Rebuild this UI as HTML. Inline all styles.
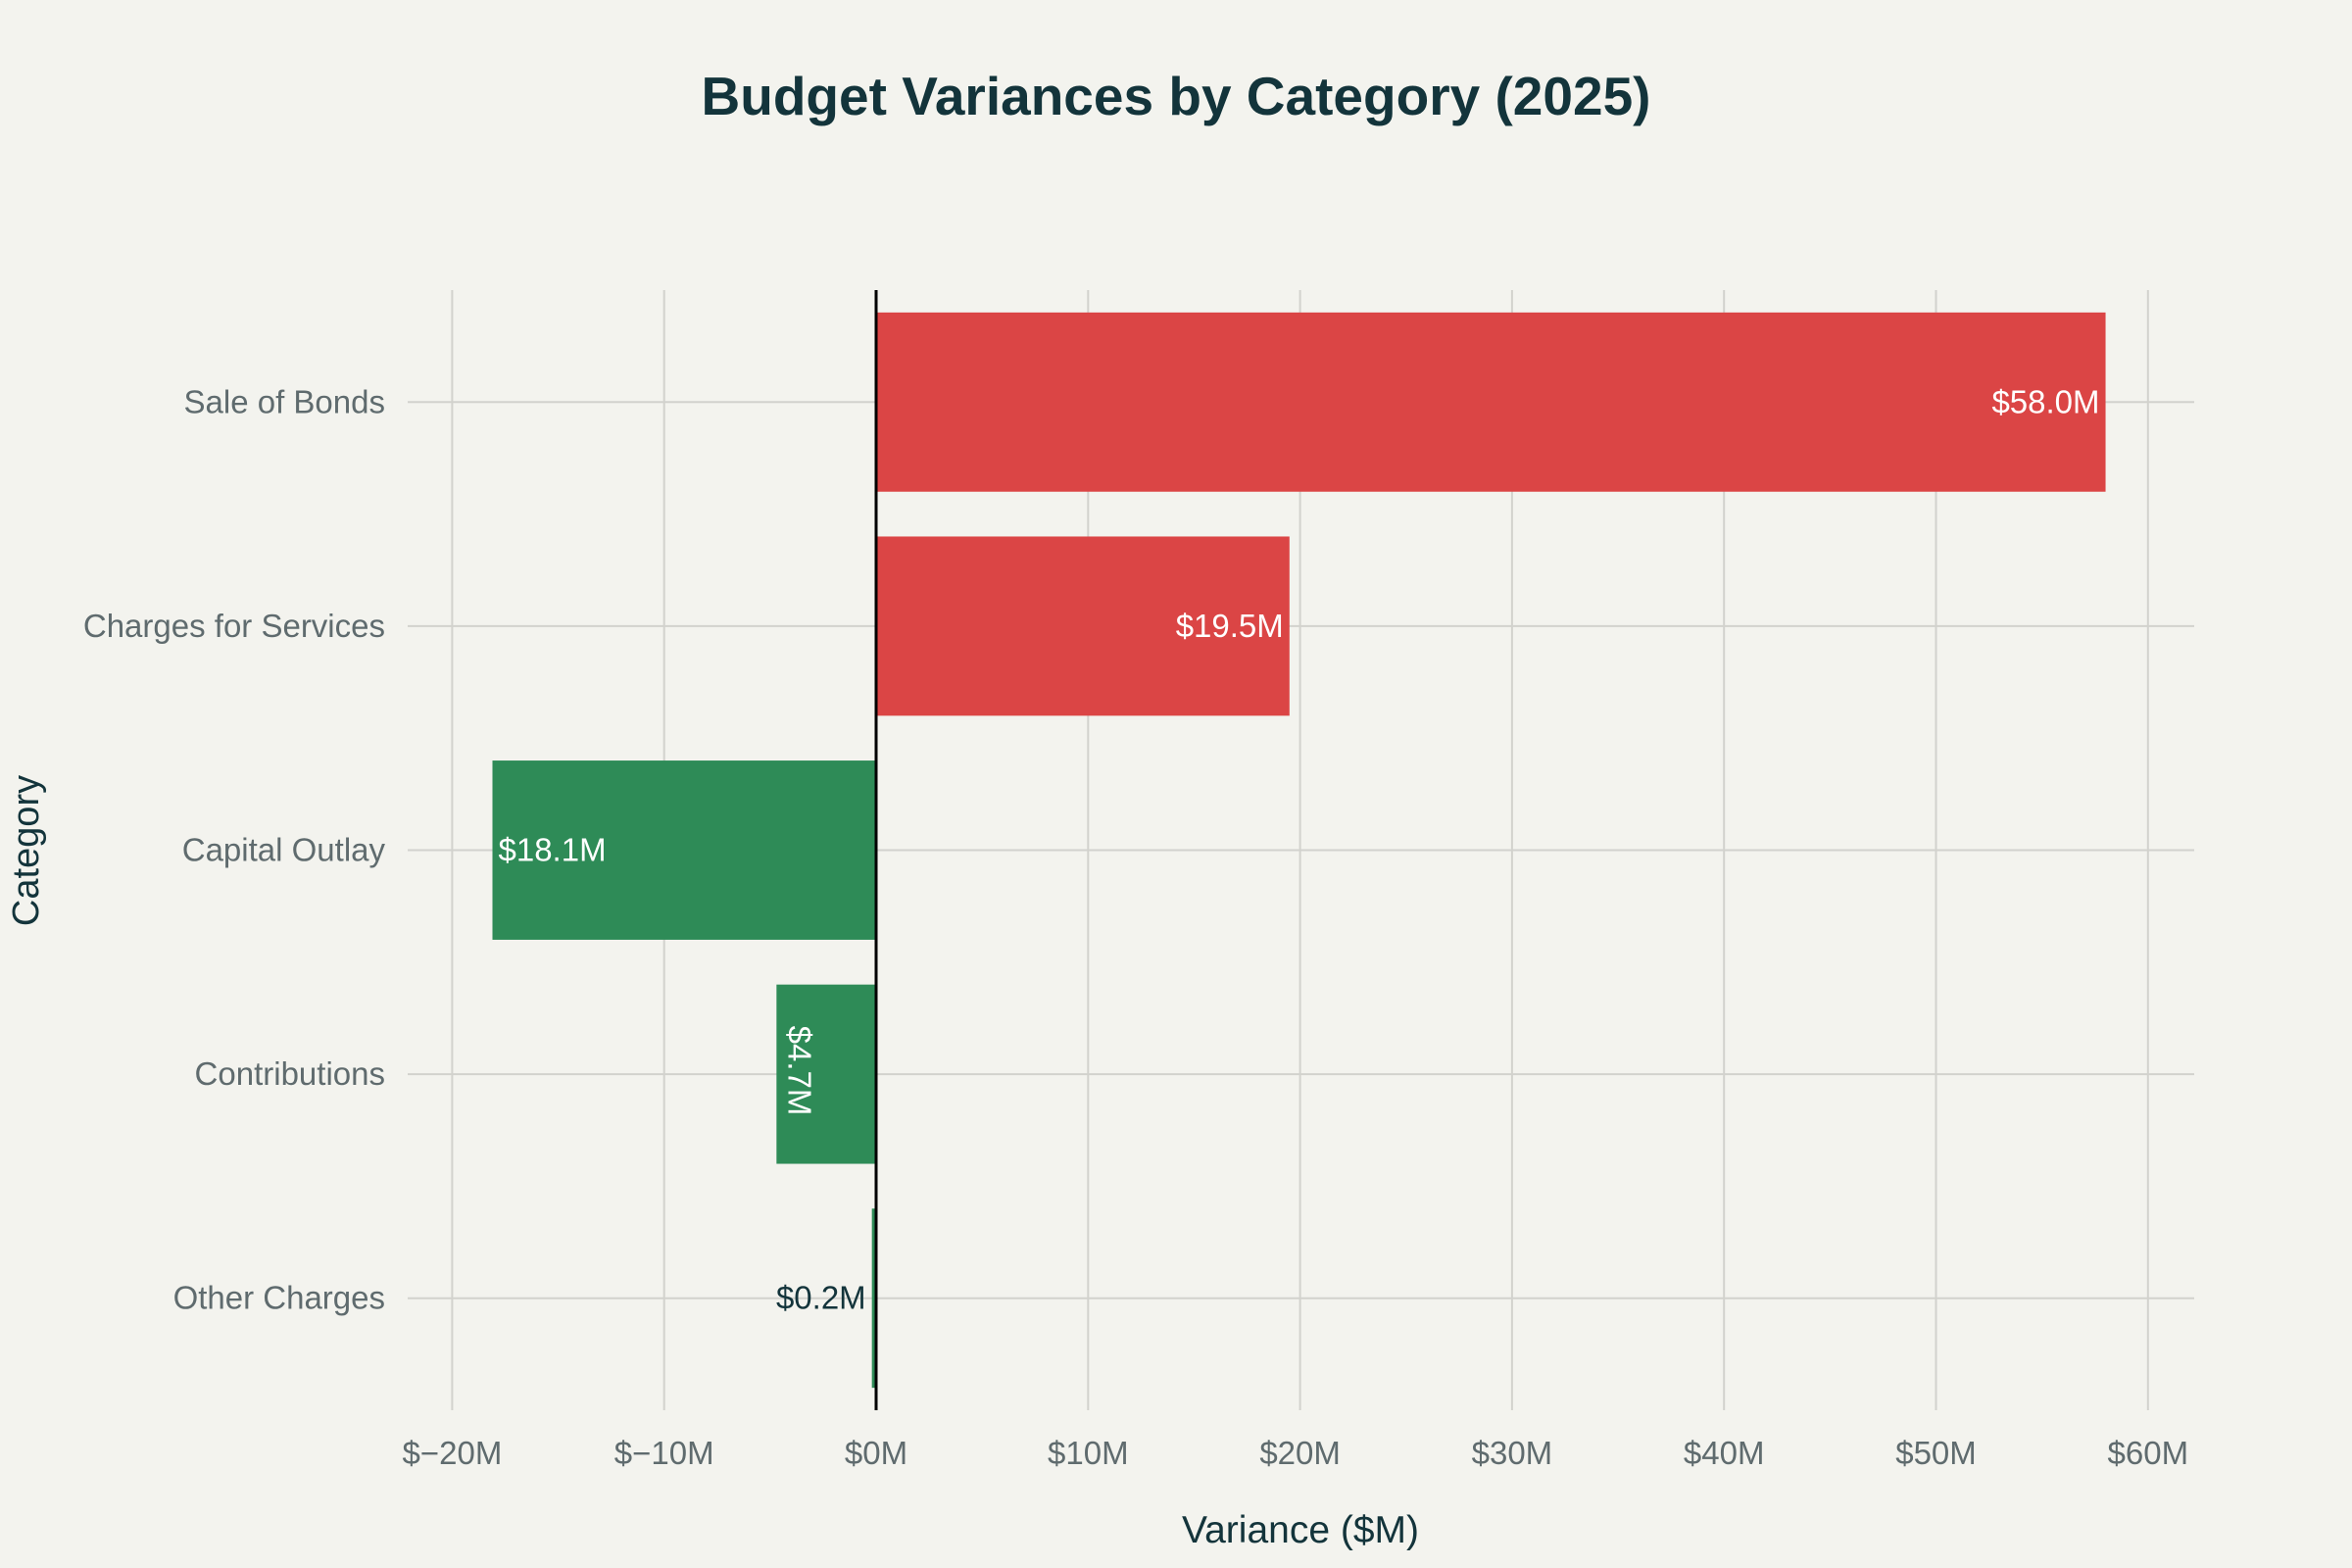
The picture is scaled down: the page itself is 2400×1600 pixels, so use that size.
<!DOCTYPE html>
<html><head><meta charset="utf-8"><style>
html,body{margin:0;padding:0;background:#F3F3EE;}
svg{display:block;font-family:"Liberation Sans",sans-serif;}
</style></head><body>
<svg id="chart" width="2400" height="1600" viewBox="0 0 2400 1600">
<rect x="0" y="0" width="2400" height="1600" fill="#F3F3EE"/>
<text x="1200" y="117" text-anchor="middle" font-size="55" font-weight="bold" fill="#13343B">Budget Variances by Category (2025)</text>
<g id="grid"></g><g id="bars"></g><g id="labels"></g>
<text x="1327" y="1574" text-anchor="middle" font-size="39" fill="#13343B">Variance ($M)</text>
<text transform="translate(39,868) rotate(-90)" text-anchor="middle" font-size="38" fill="#13343B">Category</text>
</svg>
<script>
const categories = ["Sale of Bonds","Charges for Services","Capital Outlay","Contributions","Other Charges"];
const values = [58.0, 19.5, -18.1, -4.7, -0.2];
const valueLabels = ["$58.0M","$19.5M","$18.1M","$4.7M","$0.2M"];
const xTicks = [-20,-10,0,10,20,30,40,50,60];
const xTickLabels = ["$−20M","$−10M","$0M","$10M","$20M","$30M","$40M","$50M","$60M"];

const NS="http://www.w3.org/2000/svg";
const plotL=416, plotR=2239, plotT=296, plotB=1439;
const x0=894, pxPer=216.3/10;
function xs(v){return x0+v*pxPer;}
const band=(plotB-plotT)/categories.length;
function yc(i){return plotT+band*(i+0.5);}
function mk(tag,attrs,parent){const e=document.createElementNS(NS,tag);for(const k in attrs)e.setAttribute(k,attrs[k]);parent.appendChild(e);return e;}
const grid=document.getElementById('grid'), bars=document.getElementById('bars'), labels=document.getElementById('labels');
const FS=33;
xTicks.forEach((t,i)=>{
  const l=mk('line',{x1:xs(t),x2:xs(t),y1:plotT,y2:plotB,stroke:'#D2D2CD','stroke-width':2},grid);
  
  
  const tx=mk('text',{x:xs(t),y:1494,'text-anchor':'middle','font-size':FS,fill:'#5F6B6E'},grid);
  tx.textContent=xTickLabels[i];
  
  
});
categories.forEach((c,i)=>{
  const l=mk('line',{x1:plotL,x2:plotR,y1:yc(i),y2:yc(i),stroke:'#D2D2CD','stroke-width':2},grid);
  
  
  const tx=mk('text',{x:393,y:yc(i)+11,'text-anchor':'end','font-size':FS,fill:'#5F6B6E'},grid);
  tx.textContent=c;
  
  
});
const bh=band*0.8;
values.forEach((v,i)=>{
  const xa=Math.min(xs(0),xs(v)), w=Math.abs(xs(v)-xs(0));
  const r=mk('rect',{x:xa,y:yc(i)-bh/2,width:Math.max(w,2),height:bh,fill:v>0?'#DB4545':'#2E8B57'},bars);
  
  
  let t;
  if(w<30){
    t=mk('text',{x:xa-6,y:yc(i)+11,'text-anchor':'end','font-size':FS,fill:'#13343B'},labels);
  } else if(w<150){
    const cx=xa+24;
    t=mk('text',{x:0,y:0,'text-anchor':'start','font-size':FS,fill:'#FFFFFF',transform:`translate(${cx-12},${yc(i)-bh/2+42}) rotate(90)`},labels);
  } else if(v>0){
    t=mk('text',{x:xs(v)-6,y:yc(i)+11,'text-anchor':'end','font-size':FS,fill:'#FFFFFF'},labels);
  } else {
    t=mk('text',{x:xs(v)+6,y:yc(i)+11,'text-anchor':'start','font-size':FS,fill:'#FFFFFF'},labels);
  }
  t.textContent=valueLabels[i];
  
  
});
const z=mk('line',{x1:xs(0),x2:xs(0),y1:plotT,y2:plotB,stroke:'#000','stroke-width':3},labels);


</script>
</body></html>
